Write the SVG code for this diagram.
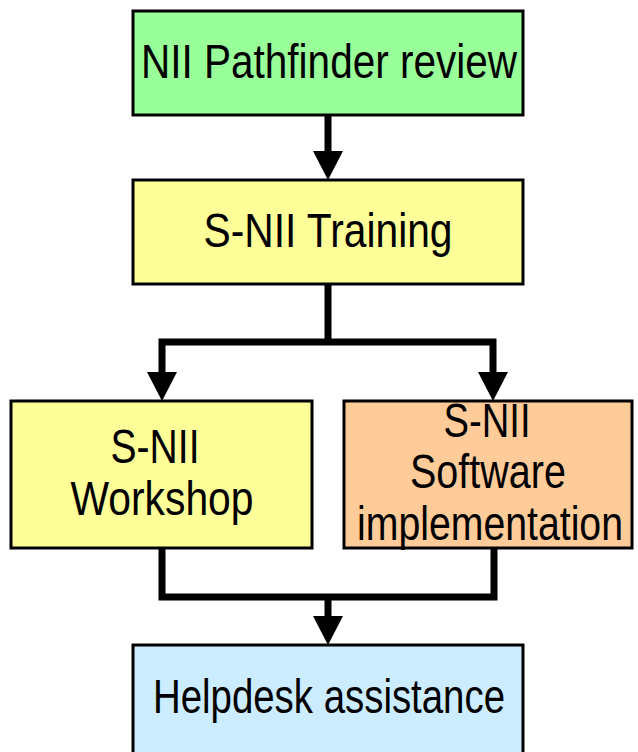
<svg xmlns="http://www.w3.org/2000/svg" width="638" height="752" viewBox="0 0 638 752">
<style>
.box{stroke:#000;stroke-width:3}
.t{font-family:"Liberation Sans",Arial,sans-serif;font-size:48px;fill:#000;text-anchor:middle}
.c{fill:none;stroke:#000;stroke-width:7;stroke-linejoin:miter}
</style>
<defs>
<marker id="ah" markerUnits="userSpaceOnUse" markerWidth="30" markerHeight="30" refX="0" refY="15" orient="auto" viewBox="0 0 30 30">
<path d="M0,0 L29,15 L0,30 Z" fill="#000"/>
</marker>
</defs>
<g id="n1"><rect class="box" x="133" y="11" width="390" height="104" fill="#99FF99"/>
<text class="t" x="329" y="78" textLength="376" lengthAdjust="spacingAndGlyphs">NII Pathfinder review</text></g>
<g id="n2"><rect class="box" x="133" y="180" width="390" height="104" fill="#FFFF99"/>
<text class="t" x="328" y="247" textLength="249" lengthAdjust="spacingAndGlyphs">S-NII Training</text></g>
<g id="n3"><rect class="box" x="11" y="401" width="301" height="147" fill="#FFFF99"/>
<text class="t" x="155" y="463" textLength="89" lengthAdjust="spacingAndGlyphs">S-NII</text>
<text class="t" x="162" y="515" textLength="183" lengthAdjust="spacingAndGlyphs">Workshop</text></g>
<g id="n4"><rect class="box" x="344" y="401" width="288" height="147" fill="#FFCC99"/>
<text class="t" x="487" y="437" textLength="87" lengthAdjust="spacingAndGlyphs">S-NII</text>
<text class="t" x="488" y="488" textLength="156" lengthAdjust="spacingAndGlyphs">Software</text>
<text class="t" x="490" y="540" textLength="266" lengthAdjust="spacingAndGlyphs">implementation</text></g>
<g id="n5"><rect class="box" x="133" y="645" width="390" height="130" fill="#CCECFF"/>
<text class="t" x="329" y="713" textLength="352" lengthAdjust="spacingAndGlyphs">Helpdesk assistance</text></g>
<g id="connectors">
<path class="c" d="M328,115 V151" marker-end="url(#ah)"/>
<path class="c" d="M328,284 V342"/>
<path class="c" d="M328,342 H162 V372" marker-end="url(#ah)"/>
<path class="c" d="M328,342 H493 V372" marker-end="url(#ah)"/>
<path class="c" d="M162,548 V597 H494 V548"/>
<path class="c" d="M328,597 V616" marker-end="url(#ah)"/>
</g>
</svg>
